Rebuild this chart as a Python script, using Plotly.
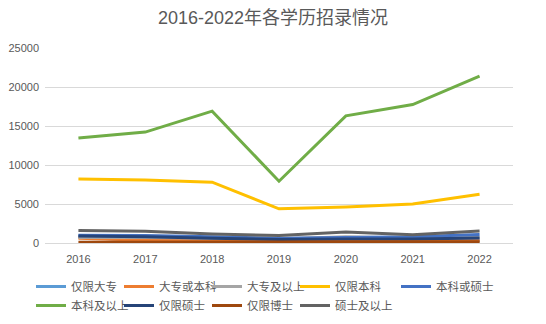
import plotly.graph_objects as go

years = ["2016", "2017", "2018", "2019", "2020", "2021", "2022"]
series_names = ["仅限大专", "大专或本科", "大专及以上", "仅限本科", "本科或硕士",
                "本科及以上", "仅限硕士", "仅限博士", "硕士及以上"]
only_dazhuan = [800, 250, 200, 150, 200, 200, 250]
dazhuan_or_benke = [600, 350, 300, 250, 300, 300, 300]
dazhuan_above = [700, 700, 600, 500, 800, 600, 700]
only_benke = [8200, 8080, 7800, 4380, 4600, 5000, 6260]
benke_or_shuoshi = [1000, 950, 800, 600, 700, 800, 1100]
benke_above = [13450, 14220, 16900, 7920, 16300, 17750, 21400]
only_shuoshi = [900, 800, 600, 450, 500, 500, 650]
only_boshi = [100, 100, 100, 100, 100, 100, 150]
shuoshi_above = [1600, 1500, 1150, 950, 1400, 1050, 1550]

values = [only_dazhuan, dazhuan_or_benke, dazhuan_above, only_benke, benke_or_shuoshi,
          benke_above, only_shuoshi, only_boshi, shuoshi_above]
colors = ["#5B9BD5", "#ED7D31", "#A5A5A5", "#FFC000", "#4472C4",
          "#70AD47", "#264478", "#9E480E", "#636363"]

fig = go.Figure()
for i, (name, vals, c) in enumerate(zip(series_names, values, colors)):
    # the last entry of the first legend row gets its own legend so its text is not clipped
    fig.add_trace(go.Scatter(x=years, y=vals, mode="lines", name=name,
                             line=dict(color=c, width=3),
                             legend="legend2" if i == 4 else "legend"))
    if i == 4:
        # invisible legend spacer holding the slot in the main legend
        fig.add_trace(go.Scatter(x=[None], y=[None], mode="lines", name=" ",
                                 line=dict(color="rgba(0,0,0,0)", width=3),
                                 hoverinfo="skip", legend="legend"))

font_family = "Liberation Sans, Noto Sans CJK SC, sans-serif"
legend_common = dict(orientation="h", xref="container", xanchor="left",
                     y=(324 - 272) / 324, yref="container", yanchor="top",
                     itemwidth=30, bgcolor="rgba(0,0,0,0)",
                     font=dict(size=11.5, color="#595959"), tracegroupgap=0,
                     traceorder="normal")
fig.update_layout(
    width=546, height=324,
    margin=dict(l=45, r=33, t=48, b=81, autoexpand=False),
    paper_bgcolor="white", plot_bgcolor="white",
    title=dict(text="2016-2022年各学历招录情况", x=0.5, xanchor="center",
               y=0.945, yanchor="middle",
               font=dict(family=font_family, size=18, color="#595959")),
    font=dict(family=font_family, color="#595959", size=11),
    xaxis=dict(type="category", range=[-0.5, 6.5], showgrid=False,
               showline=True, linecolor="#D9D9D9", ticks="",
               ticklabelstandoff=6,
               tickfont=dict(size=11, color="#595959")),
    yaxis=dict(range=[0, 25000], dtick=5000, showgrid=True, gridcolor="#D9D9D9",
               zeroline=False, showline=False, ticks="", ticklen=0,
               ticklabelstandoff=5,
               tickformat="d", tickfont=dict(size=11, color="#595959")),
    legend=dict(x=31 / 546, entrywidth=43, entrywidthmode="pixels", **legend_common),
    legend2=dict(x=396 / 546, **legend_common),
    showlegend=True,
)
fig.write_html("out.html")
